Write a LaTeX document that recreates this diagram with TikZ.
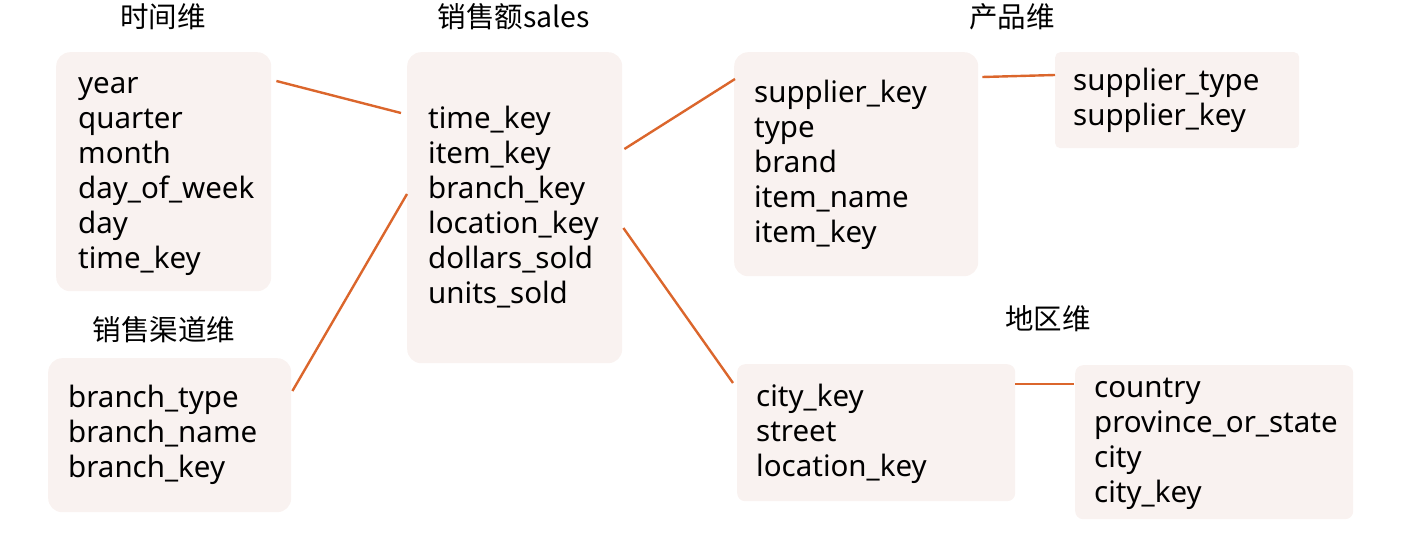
\documentclass[tikz,border=0pt]{standalone}
\usepackage{fontspec}
\setmainfont{Noto Sans}
\newfontfamily\cjk{Noto Sans CJK SC}
\definecolor{boxfill}{HTML}{F9F2F0}
\definecolor{conncol}{HTML}{DB662C}
\tikzset{
  tbl/.style={anchor=north west, fill=boxfill, draw=none, inner sep=0pt, rounded corners=#1},
  tbl/.default=14pt,
  rows/.style={anchor=base west, align=left, inner sep=0pt, font=\fontsize{29.5}{35}\selectfont, text=black},
  hdr/.style={inner sep=0pt, font=\cjk\fontsize{28.5}{32}\selectfont, text=black},
  conn/.style={draw=conncol, line width=2.4pt}
}
\begin{document}
\begin{tikzpicture}[x=1pt,y=-1pt]
\useasboundingbox (0,0) rectangle (1409,538);
% boxes
\node[tbl, minimum width=215pt, minimum height=239pt] (time) at (56,52) {};
\node[tbl, minimum width=215pt, minimum height=311pt] (sales) at (407,52) {};
\node[tbl, minimum width=244pt, minimum height=224pt] (product) at (734,52) {};
\node[tbl=5pt, minimum width=244pt, minimum height=96pt] (supplier) at (1055,52) {};
\node[tbl, minimum width=243pt, minimum height=154pt] (branch) at (48,358) {};
\node[tbl=8pt, minimum width=278pt, minimum height=137pt] (location) at (737,364) {};
\node[tbl=8pt, minimum width=278pt, minimum height=154pt] (city) at (1075,365) {};
% headers
\node[hdr] (htime) at (163,17) {时间维};
\node[hdr] (hsales) at (514,17) {销售额sales};
\node[hdr] (hproduct) at (1012,17) {产品维};
\node[hdr] (hbranch) at (164,330) {销售渠道维};
\node[hdr] (hlocation) at (1048,319) {地区维};
% rows (anchor = baseline of the last line)
\node[rows] (ttime) at (78,268) {year\\quarter\\month\\day\_of\_week\\day\\time\_key};
\node[rows] (tsales) at (428,303) {time\_key\\item\_key\\branch\_key\\location\_key\\dollars\_sold\\units\_sold};
\node[rows] (tproduct) at (754,242) {supplier\_key\\type\\brand\\item\_name\\item\_key};
\node[rows] (tsupplier) at (1073,125) {supplier\_type\\supplier\_key};
\node[rows] (tbranch) at (68,477) {branch\_type\\branch\_name\\branch\_key};
\node[rows] (tlocation) at (756,476) {city\_key\\street\\location\_key};
\node[rows] (tcity) at (1094,502) {country\\province\_or\_state\\city\\city\_key};
% connectors
\draw[conn] ([xshift=5pt,yshift=-29pt]time.north east) -- ([xshift=-6pt,yshift=-61pt]sales.north west);
\draw[conn] ([xshift=1pt,yshift=-33pt]branch.north east) -- ([yshift=-142pt]sales.north west);
\draw[conn] ([xshift=2pt,yshift=-97pt]sales.north east) -- ([xshift=1pt,yshift=-27pt]product.north west);
\draw[conn] ([xshift=1pt,yshift=-176pt]sales.north east) -- ([xshift=-4pt,yshift=-19pt]location.north west);
\draw[conn] ([xshift=4pt,yshift=-25pt]product.north east) -- ([yshift=-23pt]supplier.north west);
\draw[conn] ([yshift=-20pt]location.north east) -- ([xshift=-1pt,yshift=-19pt]city.north west);
\end{tikzpicture}
\end{document}
